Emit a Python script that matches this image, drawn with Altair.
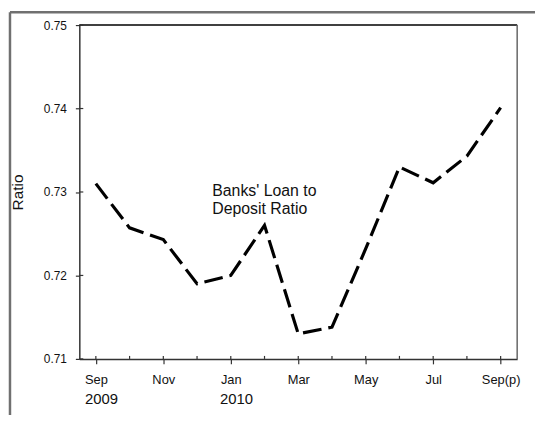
import json
import altair as alt
import pandas as pd

months = ["Sep", "Oct", "Nov", "Dec", "Jan", "Feb", "Mar", "Apr", "May", "Jun", "Jul", "Aug", "Sep(p)"]
tick_labels = ["Sep", "", "Nov", "", "Jan", "", "Mar", "", "May", "", "Jul", "", "Sep(p)"]
ratio = [0.7310, 0.7257, 0.7243, 0.7190, 0.7200, 0.7260, 0.7130, 0.7138, 0.7232, 0.7330, 0.7311, 0.7343, 0.7401]
years = ["2009", "2010"]
year_index = [0, 4]
y_ticks = [0.71, 0.72, 0.73, 0.74, 0.75]
annotation = ["Banks' Loan to", "Deposit Ratio"]
annotation_at = [3.45, 0.7295]

W, H = 442, 337
FONT = "Liberation Sans, Arial, sans-serif"
AXIS_COLOR = "#333333"

idx = list(range(len(months)))
df = pd.DataFrame({"i": idx, "month": months, "ratio": ratio})
df_years = pd.DataFrame({"i": year_index, "year": years})
df_yt = pd.DataFrame({"v": y_ticks})
df_xt = pd.DataFrame({"i": idx})
df_one = pd.DataFrame({"k": [0]})
df_ann = pd.DataFrame({"i": [annotation_at[0]], "v": [annotation_at[1]], "t": [annotation]})

x_scale = alt.Scale(domain=[-0.49, len(months) - 1 + 0.49], nice=False, zero=False)
y_scale = alt.Scale(domain=[0.71, 0.75], nice=False, zero=False)

label_expr = json.dumps(tick_labels) + "[datum.value]"

x_axis = alt.Axis(
    values=idx, labelExpr=label_expr, title=None, grid=False,
    tickSize=5, labelPadding=10, labelFontSize=13, labelAngle=0,
    labelFlush=False, labelOverlap=False, labelColor="#111111",
    domainColor=AXIS_COLOR, tickColor=AXIS_COLOR, domainWidth=1.5, tickWidth=1.2,
    labelFont=FONT,
)
y_axis = alt.Axis(
    values=y_ticks, format=".2f", title="Ratio", titleFontSize=15.5,
    titleFontWeight="normal", titleFont=FONT, titleColor="#111111",
    titleX=-57, titleY=H / 2, titleAngle=-90, titleBaseline="alphabetic", titleAlign="center",
    tickSize=4, labelPadding=9, labelFontSize=12, labelFont=FONT, labelColor="#111111",
    grid=False, domainColor=AXIS_COLOR, tickColor=AXIS_COLOR, domainWidth=1.5, tickWidth=1.2,
)

line = alt.Chart(df).mark_line(
    color="black", strokeWidth=3.2, strokeDash=[19, 7], strokeCap="butt"
).encode(
    x=alt.X("i:Q", scale=x_scale, axis=x_axis),
    y=alt.Y("ratio:Q", scale=y_scale, axis=y_axis),
)

# inward parts of the tick marks
x_in = alt.Chart(df_xt).mark_rule(color=AXIS_COLOR, strokeWidth=1.2).encode(
    x=alt.X("i:Q", scale=x_scale), y=alt.value(H), y2=alt.value(H - 3)
)
y_in = alt.Chart(df_yt).mark_rule(color=AXIS_COLOR, strokeWidth=1.2).encode(
    y=alt.Y("v:Q", scale=y_scale), x=alt.value(0), x2=alt.value(4)
)

year_text = alt.Chart(df_years).mark_text(
    align="left", baseline="alphabetic", dx=-11, fontSize=15, font=FONT, color="#111111"
).encode(
    x=alt.X("i:Q", scale=x_scale), y=alt.value(H + 46), text="year:N"
)

ann = alt.Chart(df_ann).mark_text(
    align="left", baseline="alphabetic", fontSize=16, font=FONT, color="#111111", lineHeight=18.5
).encode(
    x=alt.X("i:Q", scale=x_scale), y=alt.Y("v:Q", scale=y_scale), text="t"
)

# plot frame: top (black) and right (grey)
top_border = alt.Chart(df_one).mark_rule(color="#000000", strokeWidth=1.5).encode(
    x=alt.value(0), x2=alt.value(W), y=alt.value(0)
)
right_border = alt.Chart(df_one).mark_rule(color="#666666", strokeWidth=1.5).encode(
    x=alt.value(W), y=alt.value(0), y2=alt.value(H)
)

# outer picture frame (left and top edges)
outer_left = alt.Chart(df_one).mark_rule(color="#707070", strokeWidth=2.5).encode(
    x=alt.value(-70), y=alt.value(-13), y2=alt.value(H + 60)
)
outer_top = alt.Chart(df_one).mark_rule(color="#707070", strokeWidth=2.5).encode(
    x=alt.value(-70), x2=alt.value(W + 20), y=alt.value(-13)
)

chart = alt.layer(
    outer_left, outer_top, top_border, right_border, x_in, y_in, line, year_text, ann
).properties(
    width=W, height=H,
    autosize=alt.AutoSizeParams(type="none"),
    padding={"left": 72, "top": 15.3, "right": 18, "bottom": 55},
    background="white",
).configure_view(stroke=None)

chart.save("out.html", embed_options={"renderer": "svg", "actions": False})
